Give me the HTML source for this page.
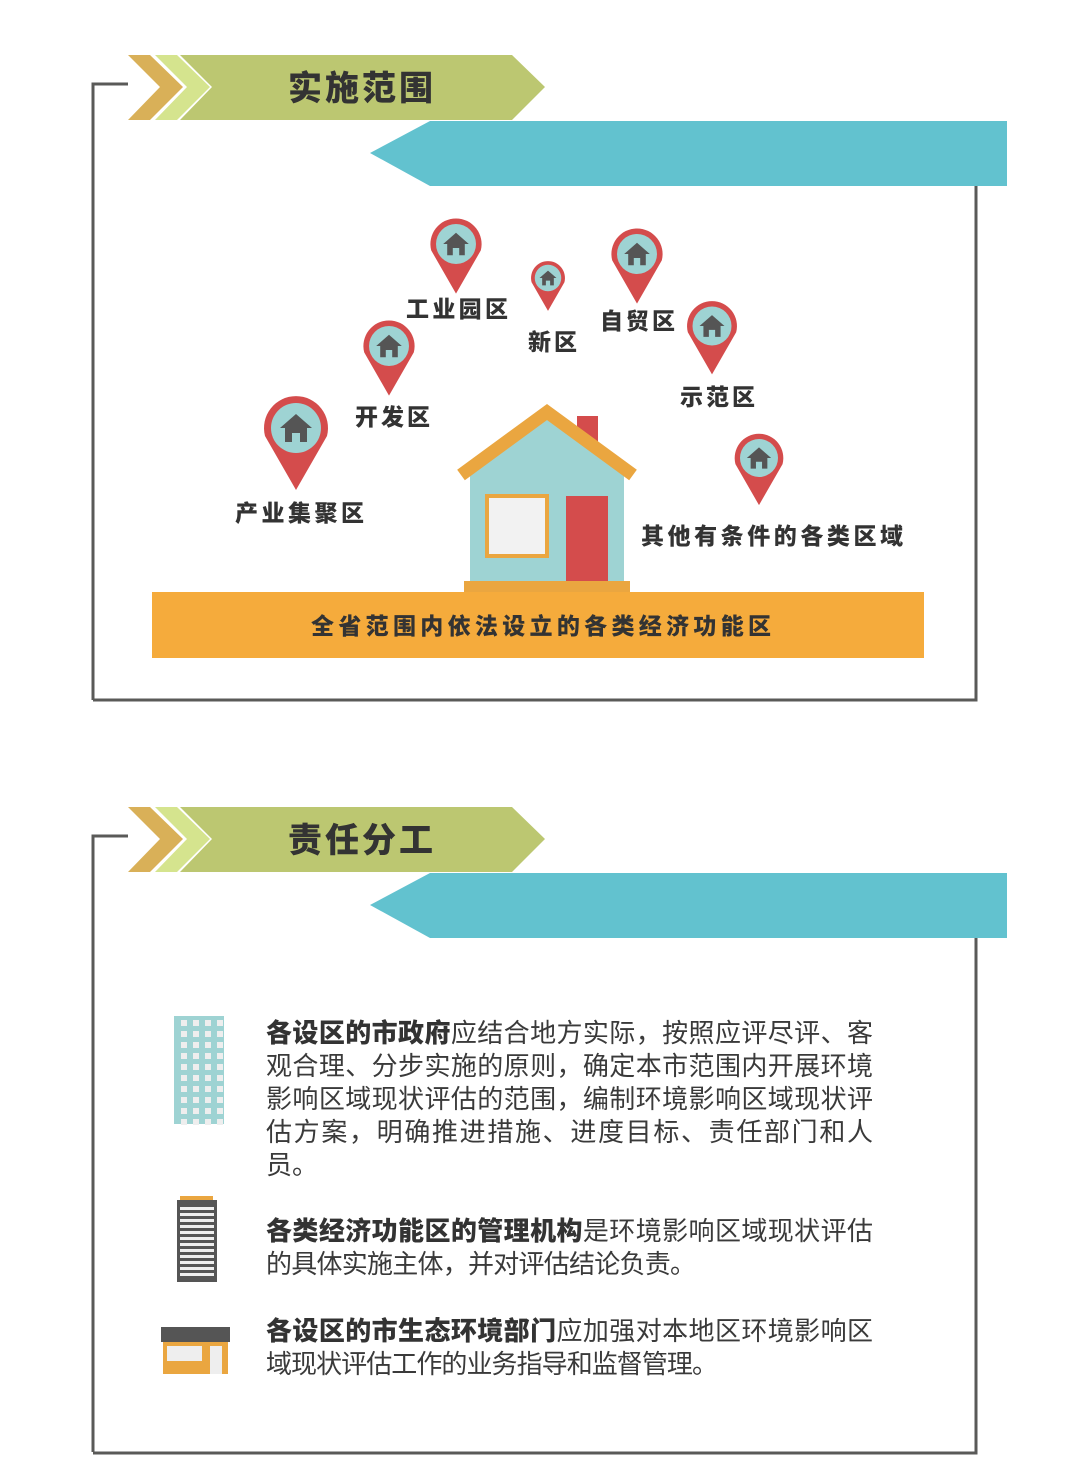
<!DOCTYPE html>
<html><head><meta charset="utf-8"><style>
body{margin:0;background:#fff;}
.w{position:relative;width:1080px;height:1482px;overflow:hidden;}
svg{position:absolute;left:0;top:0}
</style></head><body><div class="w">
<svg width="1080" height="1482" viewBox="0 0 1080 1482" font-family="Liberation Sans, Noto Sans CJK SC, sans-serif">
<defs>
<g id="hdr">
<polyline points="128,84 93,84 93,700" fill="none" stroke="#5a5a58" stroke-width="3"/>
<polygon points="370,153 430,121 1007,121 1007,186 430,186" fill="#62c2cf"/>
<polygon points="128,55 150,55 183,87 150,120 128,120 160,87" fill="#d9b058"/>
<polygon points="150,55 172,55 205,87 172,120 150,120 182,87" fill="#d5e48e" transform="translate(5,0)"/>
<polygon points="180,55 512,55 545,87 512,120 180,120 212,87" fill="#bcc771"/>
</g>
<g id="pin"><path d="M-31,8 A32,32 0 1 1 31,8 L0,62 Z" fill="#d44c4c"/><circle r="25" fill="#9ed3d3"/><path d="M-16,0 L0,-14 16,0 11,0 11,14 4,14 4,5 -4,5 -4,14 -11,14 -11,0Z" fill="#555"/></g>
</defs>
<use href="#hdr"/>
<polyline points="976,186 976,700 93,700" fill="none" stroke="#5a5a58" stroke-width="3"/>
<text x="362" y="100" font-size="34" font-weight="900" fill="#333" text-anchor="middle" letter-spacing="3">实施范围</text>
<g transform="translate(0,752)"><use href="#hdr"/>
<polyline points="976,186 976,701 93,701" fill="none" stroke="#5a5a58" stroke-width="3"/></g>
<text x="362" y="852" font-size="34" font-weight="900" fill="#333" text-anchor="middle" letter-spacing="3">责任分工</text>
<use href="#pin" transform="translate(296,428)"/>
<use href="#pin" transform="translate(389,346) scale(0.8)"/>
<use href="#pin" transform="translate(456,244) scale(0.8)"/>
<use href="#pin" transform="translate(548,278) scale(0.53)"/>
<use href="#pin" transform="translate(637,254) scale(0.8)"/>
<use href="#pin" transform="translate(712,326) scale(0.78)"/>
<use href="#pin" transform="translate(759,458) scale(0.76)"/>
<g font-size="23" font-weight="900" fill="#333" letter-spacing="1">
<text x="235" y="521" textLength="130" lengthAdjust="spacing">产业集聚区</text>
<text x="355" y="425" textLength="76" lengthAdjust="spacing">开发区</text>
<text x="406" y="317" textLength="103" lengthAdjust="spacing">工业园区</text>
<text x="528" y="350" textLength="50" lengthAdjust="spacing">新区</text>
<text x="600" y="329" textLength="76" lengthAdjust="spacing">自贸区</text>
<text x="680" y="405" textLength="76" lengthAdjust="spacing">示范区</text>
<text x="641" y="544" textLength="263" lengthAdjust="spacing">其他有条件的各类区域</text>
</g>
<rect x="577" y="416" width="21" height="30" fill="#d44c4c"/>
<polygon points="470,470 547,413 624,470 624,583 470,583" fill="#9ed3d3"/>
<polyline points="461,475 547,412 633,475" fill="none" stroke="#eaa640" stroke-width="13"/>
<rect x="487" y="496" width="60" height="60" fill="#f2f2f2" stroke="#eaa640" stroke-width="4"/>
<rect x="566" y="496" width="42" height="88" fill="#d44c4c"/>
<rect x="464" y="581" width="166" height="12" fill="#eaa640"/>
<rect x="152" y="592" width="772" height="66" fill="#f5ab3c"/>
<text x="311" y="634" font-size="23" font-weight="900" fill="#333" textLength="460" lengthAdjust="spacing">全省范围内依法设立的各类经济功能区</text>
<rect x="174" y="1016" width="50" height="108" fill="#9ed3d3"/>
<rect x="180" y="1196" width="33" height="8" fill="#eaa640"/>
<rect x="177" y="1200" width="40" height="82" fill="#555"/>
<rect x="161" y="1327" width="69" height="15" fill="#555"/>
<rect x="163" y="1342" width="65" height="32" fill="#eaa640"/>
<rect x="167" y="1346" width="35" height="15" fill="#eee"/>
<rect x="210" y="1346" width="12" height="28" fill="#eee"/>
<g font-size="26" fill="#3a3a3a">
<text x="266" y="1042" textLength="607" lengthAdjust="spacing"><tspan font-weight="900" fill="#333">各设区的市政府</tspan>应结合地方实际，按照应评尽评、客</text>
<text x="266" y="1075" textLength="607" lengthAdjust="spacing">观合理、分步实施的原则，确定本市范围内开展环境</text>
<text x="266" y="1108" textLength="607" lengthAdjust="spacing">影响区域现状评估的范围，编制环境影响区域现状评</text>
<text x="266" y="1141" textLength="607" lengthAdjust="spacing">估方案，明确推进措施、进度目标、责任部门和人</text>
<text x="266" y="1174">员。</text>
<text x="266" y="1240" textLength="607" lengthAdjust="spacing"><tspan font-weight="900" fill="#333">各类经济功能区的管理机构</tspan>是环境影响区域现状评估</text>
<text x="266" y="1273" textLength="430" lengthAdjust="spacing">的具体实施主体，并对评估结论负责。</text>
<text x="266" y="1340" textLength="607" lengthAdjust="spacing"><tspan font-weight="900" fill="#333">各设区的市生态环境部门</tspan>应加强对本地区环境影响区</text>
<text x="266" y="1373" textLength="452" lengthAdjust="spacing">域现状评估工作的业务指导和监督管理。</text>
</g>
</svg>
<div style="position:absolute;left:174px;top:1016px;width:50px;height:108px;display:grid;grid-template-columns:repeat(4,6px);gap:5px 6px;padding:4px 0 0 7px;box-sizing:border-box">
<i style="background:#eee;height:6px"></i><i style="background:#eee;height:6px"></i><i style="background:#eee;height:6px"></i><i style="background:#eee;height:6px"></i><i style="background:#eee;height:6px"></i><i style="background:#eee;height:6px"></i><i style="background:#eee;height:6px"></i><i style="background:#eee;height:6px"></i><i style="background:#eee;height:6px"></i><i style="background:#eee;height:6px"></i><i style="background:#eee;height:6px"></i><i style="background:#eee;height:6px"></i><i style="background:#eee;height:6px"></i><i style="background:#eee;height:6px"></i><i style="background:#eee;height:6px"></i><i style="background:#eee;height:6px"></i><i style="background:#eee;height:6px"></i><i style="background:#eee;height:6px"></i><i style="background:#eee;height:6px"></i><i style="background:#eee;height:6px"></i><i style="background:#eee;height:6px"></i><i style="background:#eee;height:6px"></i><i style="background:#eee;height:6px"></i><i style="background:#eee;height:6px"></i><i style="background:#eee;height:6px"></i><i style="background:#eee;height:6px"></i><i style="background:#eee;height:6px"></i><i style="background:#eee;height:6px"></i><i style="background:#eee;height:6px"></i><i style="background:#eee;height:6px"></i><i style="background:#eee;height:6px"></i><i style="background:#eee;height:6px"></i><i style="background:#eee;height:6px"></i><i style="background:#eee;height:6px"></i><i style="background:#eee;height:6px"></i><i style="background:#eee;height:6px"></i><i style="background:#eee;height:6px"></i><i style="background:#eee;height:6px"></i><i style="background:#eee;height:6px"></i><i style="background:#eee;height:6px"></i>
</div>
<div style="position:absolute;left:180px;top:1207px;width:34px;height:72px;background:repeating-linear-gradient(#eee 0 3px,#555 3px 6px)"></div>
</div></body></html>
